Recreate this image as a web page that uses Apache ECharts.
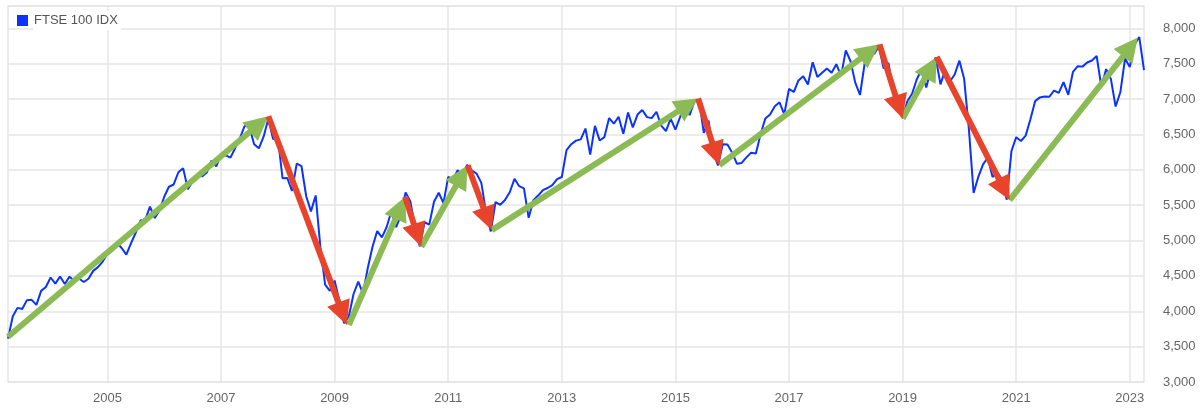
<!DOCTYPE html>
<html>
<head>
<meta charset="utf-8">
<script src="https://cdn.jsdelivr.net/npm/echarts@6/dist/echarts.min.js"></script>
<style>
html,body{margin:0;padding:0;background:#fff;}
#chart{width:1200px;height:412px;}
</style>
</head>
<body>
<div id="chart"></div>
<script>
// FTSE 100 month-end closes, Mar 2003 .. Mar 2023 (last value read as ~7,410)
const firstMonth = [2003, 3];
const ftse2003 = [3613, 3926, 4048, 4031, 4157, 4161, 4091, 4288, 4342, 4477];
const ftse2004 = [4390, 4492, 4386, 4489, 4431, 4464, 4413, 4459, 4571, 4624, 4703, 4814];
const ftse2005 = [4852, 4968, 4894, 4801, 4964, 5113, 5282, 5296, 5478, 5317, 5423, 5619];
const ftse2006 = [5760, 5792, 5965, 6023, 5724, 5833, 5928, 5906, 5961, 6129, 6049, 6221];
const ftse2007 = [6203, 6172, 6308, 6449, 6621, 6608, 6360, 6303, 6467, 6722, 6433, 6457];
const ftse2008 = [5880, 5884, 5702, 6087, 6053, 5626, 5412, 5637, 4903, 4377, 4288, 4434];
const ftse2009 = [4150, 3830, 3926, 4244, 4418, 4249, 4608, 4909, 5134, 5045, 5191, 5413];
const ftse2010 = [5189, 5355, 5680, 5553, 5188, 4917, 5258, 5225, 5549, 5675, 5528, 5900];
const ftse2011 = [5863, 5994, 5909, 6070, 5990, 5946, 5815, 5395, 5128, 5544, 5505, 5572];
const ftse2012 = [5682, 5872, 5768, 5738, 5321, 5571, 5635, 5711, 5742, 5783, 5867, 5898];
const ftse2013 = [6277, 6361, 6412, 6430, 6583, 6215, 6621, 6413, 6462, 6731, 6651, 6749];
const ftse2014 = [6510, 6810, 6598, 6780, 6845, 6744, 6730, 6820, 6623, 6546, 6723, 6566];
const ftse2015 = [6749, 6947, 6773, 6961, 6984, 6521, 6696, 6248, 6062, 6361, 6356, 6242];
const ftse2016 = [6084, 6097, 6175, 6242, 6231, 6504, 6724, 6782, 6899, 6954, 6784, 7143];
const ftse2017 = [7099, 7263, 7323, 7204, 7520, 7313, 7372, 7431, 7373, 7493, 7327, 7688];
const ftse2018 = [7534, 7232, 7057, 7509, 7678, 7637, 7749, 7432, 7510, 7128, 6980, 6728];
const ftse2019 = [6969, 7075, 7279, 7418, 7162, 7426, 7587, 7207, 7408, 7248, 7347, 7542];
const ftse2020 = [7286, 6581, 5672, 5901, 6077, 6170, 5898, 5964, 5866, 5577, 6266, 6461];
const ftse2021 = [6407, 6483, 6714, 6970, 7023, 7037, 7032, 7120, 7086, 7238, 7059, 7385];
const ftse2022 = [7464, 7458, 7516, 7545, 7608, 7169, 7423, 7284, 6894, 7095, 7573, 7452];
const ftse2023 = [7772, 7876, 7410];

const xTickLabels = ['2005','2007','2009','2011','2013','2015','2017','2019','2021','2023'];
const yTicks = [3000, 3500, 4000, 4500, 5000, 5500, 6000, 6500, 7000, 7500, 8000];

// Trend arrows: [fromMonthIndex, fromValue, toMonthIndex, toValue]
const upArrows = [
  [0, 3640, 55, 6757],
  [72, 3805, 83.9, 5617],
  [87.3, 4911, 97.1, 6065],
  [102.2, 5147, 145.8, 7007],
  [150.3, 6065, 184.1, 7774],
  [189.0, 6725, 196.2, 7595],
  [211.6, 5571, 238.7, 7869]
];
const downArrows = [
  [55, 6757, 71.6, 3805],
  [83.9, 5617, 87.3, 4911],
  [97.1, 6065, 102.2, 5147],
  [145.8, 7007, 150.3, 6065],
  [184.1, 7774, 189.0, 6725],
  [196.2, 7595, 211.6, 5571]
];

const values = [].concat(ftse2003, ftse2004, ftse2005, ftse2006, ftse2007, ftse2008, ftse2009,
  ftse2010, ftse2011, ftse2012, ftse2013, ftse2014, ftse2015, ftse2016, ftse2017, ftse2018,
  ftse2019, ftse2020, ftse2021, ftse2022, ftse2023);

// category = date at which each month-end close is plotted (first day of next month)
const categories = [];
{
  let y = firstMonth[0], m = firstMonth[1] + 1;
  for (let i = 0; i < values.length; i++) {
    if (m > 12) { m = 1; y++; }
    categories.push(y + '-' + String(m).padStart(2, '0') + '-01');
    m++;
  }
}
const isYearTick = (idx, val) => val.slice(5) === '01-01' && xTickLabels.indexOf(val.slice(0, 4)) >= 0;

const fmt = v => String(v).replace(/\B(?=(\d{3})+(?!\d))/g, ',');

function arrowRenderer(params, api) {
  const p1 = api.coord([api.value(0), api.value(1)]);
  const p2 = api.coord([api.value(2), api.value(3)]);
  const dx = p2[0] - p1[0], dy = p2[1] - p1[1];
  const len = Math.sqrt(dx * dx + dy * dy) || 1;
  const ux = dx / len, uy = dy / len;
  const headLen = 24, headW = 24;
  const bx = p2[0] - ux * headLen, by = p2[1] - uy * headLen;
  const nx = -uy, ny = ux;
  const color = api.visual('color');
  return {
    type: 'group',
    children: [
      { type: 'line', shape: { x1: p1[0], y1: p1[1], x2: bx + ux * 3, y2: by + uy * 3 },
        style: { stroke: color, lineWidth: 6, lineCap: 'butt' } },
      { type: 'polygon', shape: { points: [[p2[0], p2[1]],
          [bx + nx * headW / 2, by + ny * headW / 2],
          [bx - nx * headW / 2, by - ny * headW / 2]] },
        style: { fill: color } }
    ]
  };
}

const chart = echarts.init(document.getElementById('chart'), null, { renderer: 'canvas' });
chart.setOption({
  animation: false,
  backgroundColor: '#fff',
  textStyle: { fontFamily: '"Liberation Sans", Arial, Helvetica, sans-serif' },
  grid: { left: 8, right: 56, top: 6, bottom: 30, show: true, borderColor: '#e6e6e6', borderWidth: 1.5, backgroundColor: '#fff' },
  legend: {
    data: ['FTSE 100 IDX'],
    left: 12, top: 6,
    icon: 'rect', itemWidth: 11, itemHeight: 11,
    selectedMode: false,
    textStyle: { fontSize: 13, color: '#555', backgroundColor: '#fff', padding: [3, 3, 3, 1] }
  },
  xAxis: [{
    type: 'category',
    data: categories,
    boundaryGap: false,
    axisLine: { show: false },
    axisTick: { show: false },
    axisLabel: { interval: isYearTick, formatter: v => v.slice(0, 4), color: '#666', fontSize: 13, margin: 10 },
    splitLine: { show: true, interval: isYearTick, lineStyle: { color: '#e6e6e6', width: 1.5 } }
  }, {
    type: 'value', min: 0, max: values.length - 1, show: false
  }],
  yAxis: {
    type: 'value',
    position: 'right',
    min: yTicks[0], max: 8315, interval: 500,
    axisLine: { show: false },
    axisTick: { show: false },
    axisLabel: { showMaxLabel: false, color: '#666', fontSize: 13, margin: 19,
      formatter: v => (yTicks.indexOf(v) >= 0 ? fmt(v) : '') },
    splitLine: { lineStyle: { color: '#e6e6e6', width: 1.5 } }
  },
  series: [{
    name: 'FTSE 100 IDX',
    type: 'line',
    data: values,
    showSymbol: false,
    symbol: 'none',
    color: '#0a33ff',
    lineStyle: { width: 2, color: '#0a33ff' },
    z: 2
  }, {
    name: 'up',
    type: 'custom',
    xAxisIndex: 1,
    renderItem: arrowRenderer,
    data: upArrows,
    itemStyle: { color: '#8cbb55' },
    z: 3
  }, {
    name: 'down',
    type: 'custom',
    xAxisIndex: 1,
    renderItem: arrowRenderer,
    data: downArrows,
    itemStyle: { color: '#e8432b' },
    z: 4
  }]
});
</script>
</body>
</html>
